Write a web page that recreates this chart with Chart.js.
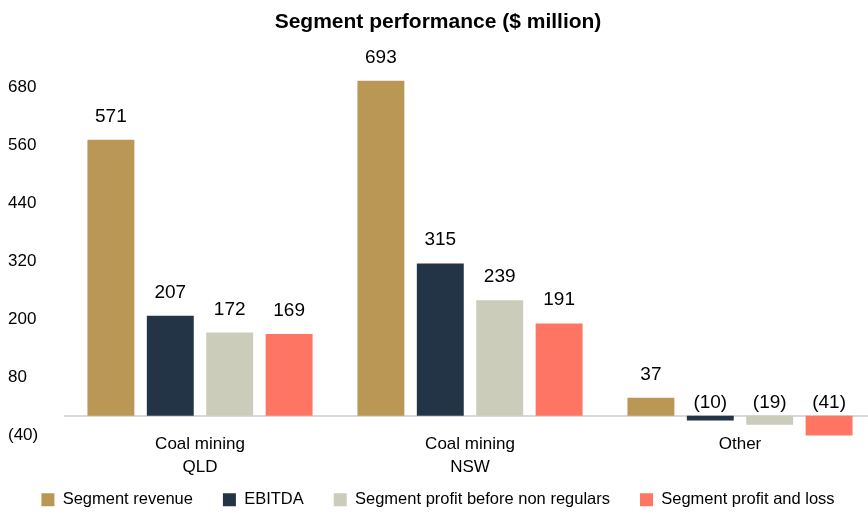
<!DOCTYPE html>
<html>
<head>
<meta charset="utf-8">
<script src="https://cdn.jsdelivr.net/npm/chart.js@4/dist/chart.umd.min.js"></script>
<style>
  html, body { margin: 0; padding: 0; background: #fff; }
  #wrap { width: 868px; height: 514px; }
</style>
</head>
<body>
<div id="wrap"><canvas id="myChart" width="868" height="514"></canvas></div>
<script>
const categories = [['Coal mining', 'QLD'], ['Coal mining', 'NSW'], 'Other'];
const revenue = [571, 693, 37];
const ebitda = [207, 315, -10];
const profitBeforeNonRegulars = [172, 239, -19];
const profitAndLoss = [169, 191, -41];
const yTicks = [-40, 80, 200, 320, 440, 560, 680];

const FONT = "'Liberation Sans', Arial, sans-serif";

function fmt(v) {
    return v < 0 ? '(' + Math.abs(v) + ')' : String(v);
}

// value labels above bars, negatives sit just above the zero line
const valueLabels = {
    id: 'valueLabels',
    afterDatasetsDraw(chart) {
        const ctx = chart.ctx;
        const zero = chart.scales.y.getPixelForValue(0);
        ctx.save();
        ctx.font = '19px ' + FONT;
        ctx.fillStyle = '#000';
        ctx.textAlign = 'center';
        ctx.textBaseline = 'alphabetic';
        chart.data.datasets.forEach((ds, i) => {
            chart.getDatasetMeta(i).data.forEach((bar, j) => {
                const v = ds.data[j];
                const y = v >= 0 ? bar.y - 18 : zero - 8;
                ctx.fillText(fmt(v), bar.x, y);
            });
        });
        ctx.restore();
    }
};

// the category axis runs a little past the right edge of the canvas
const widenX = {
    id: 'widenX',
    afterLayout(chart) {
        const x = chart.scales.x;
        x.right = x.left + 810;
        x.width = 810;
        x.configure();
    }
};

const data = {
    labels: categories,
    datasets: [
        { label: 'Segment revenue', data: revenue, backgroundColor: 'rgb(187, 151, 86)' },
        { label: 'EBITDA', data: ebitda, backgroundColor: 'rgb(35, 52, 70)' },
        { label: 'Segment profit before non regulars', data: profitBeforeNonRegulars, backgroundColor: 'rgb(203, 204, 186)' },
        { label: 'Segment profit and loss', data: profitAndLoss, backgroundColor: 'rgb(255, 117, 100)' },
    ]
};

const config = {
    type: 'bar',
    data: data,
    options: {
        responsive: false,
        animation: false,
        layout: { padding: { left: 8, right: 0, top: 0, bottom: -4 } },
        datasets: {
            bar: { categoryPercentage: 0.88, barPercentage: 0.79 }
        },
        plugins: {
            title: {
                display: true,
                text: 'Segment performance ($ million)',
                color: '#000',
                font: { family: FONT, size: 21, weight: 'bold' },
                padding: { top: 10, bottom: 10 }
            },
            legend: {
                position: 'bottom',
                labels: {
                    boxWidth: 13,
                    boxHeight: 13,
                    padding: 30,
                    color: '#000',
                    font: { family: FONT, size: 16.5 }
                }
            },
            tooltip: { enabled: false }
        },
        scales: {
            x: {
                position: { y: 0 },
                grid: { display: false },
                border: { color: '#d9d9d9', width: 2 },
                ticks: {
                    color: '#000',
                    padding: 9,
                    font: { family: FONT, size: 17, lineHeight: 1.35 },
                    maxRotation: 0
                }
            },
            y: {
                min: -94.8,
                max: 766.6,
                grid: { display: false },
                border: { display: false },
                afterBuildTicks(scale) {
                    scale.ticks = yTicks.map(v => ({ value: v }));
                },
                afterFit(scale) {
                    scale.width = 57;
                },
                ticks: {
                    color: '#000',
                    crossAlign: 'far',
                    font: { family: FONT, size: 17 },
                    callback: (v) => fmt(v)
                }
            }
        }
    },
    plugins: [valueLabels, widenX]
};

var myChart = new Chart(document.getElementById('myChart'), config);
</script>
</body>
</html>
